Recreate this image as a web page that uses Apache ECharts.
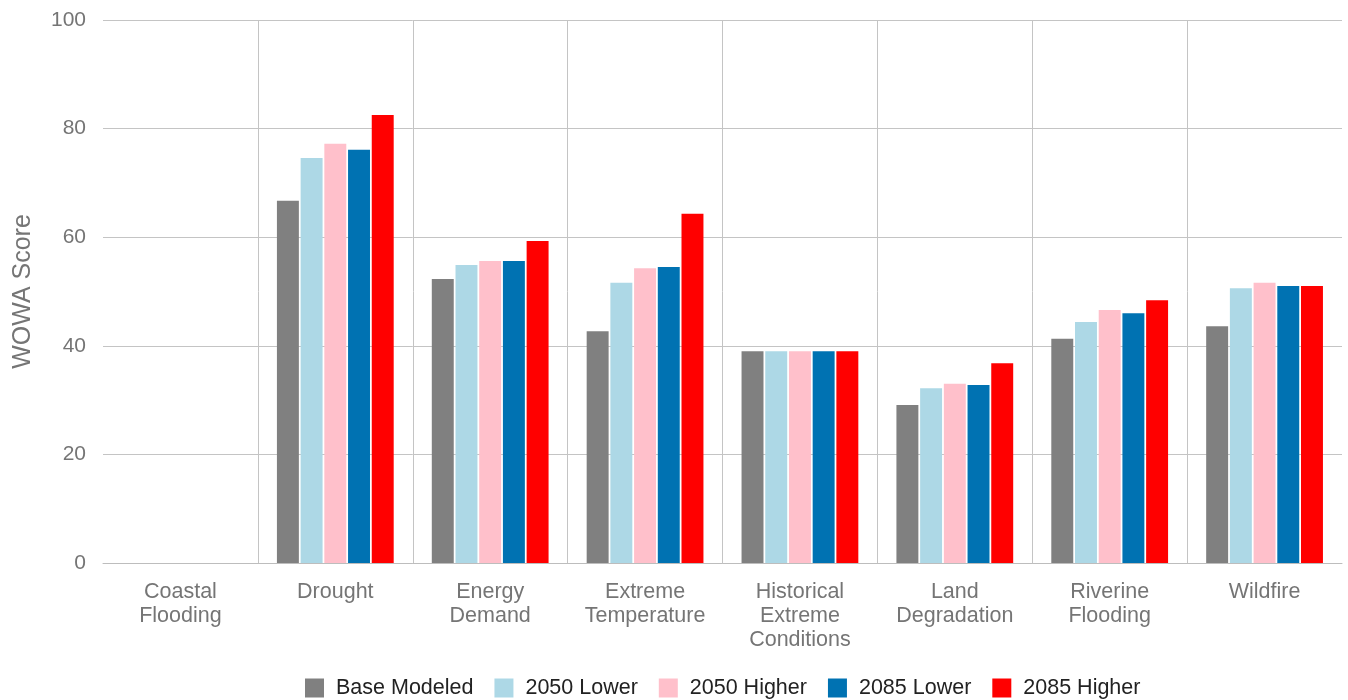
<!DOCTYPE html>
<html>
<head>
<meta charset="utf-8">
<script src="https://cdn.jsdelivr.net/npm/echarts@6/dist/echarts.min.js"></script>
<style>
html,body{margin:0;padding:0;background:#fff;}
#chart{width:1348px;height:700px;}
</style>
</head>
<body>
<div id="chart"></div>
<script>
const categories = ["Coastal\nFlooding", "Drought", "Energy\nDemand", "Extreme\nTemperature", "Historical\nExtreme\nConditions", "Land\nDegradation", "Riverine\nFlooding", "Wildfire"];
const seriesNames = ["Base Modeled", "2050 Lower", "2050 Higher", "2085 Lower", "2085 Higher"];
const baseModeled = [null, 66.7, 52.3, 42.7, 39.0, 29.1, 41.3, 43.6];
const lower2050   = [null, 74.6, 54.9, 51.6, 39.0, 32.2, 44.4, 50.6];
const higher2050  = [null, 77.2, 55.6, 54.3, 39.0, 33.0, 46.6, 51.6];
const lower2085   = [null, 76.1, 55.6, 54.5, 39.0, 32.8, 46.0, 51.0];
const higher2085  = [null, 82.5, 59.3, 64.3, 39.0, 36.8, 48.4, 51.0];
const yTicks = [0, 20, 40, 60, 80, 100];

const colors = ["#808080", "#add8e6", "#ffc0cb", "#0072b2", "#ff0000"];
const seriesData = [baseModeled, lower2050, higher2050, lower2085, higher2085];
const font = "Liberation Sans, Arial, sans-serif";

const chart = echarts.init(document.getElementById('chart'), null, {renderer: 'canvas'});
chart.setOption({
  animation: false,
  color: colors,
  grid: {left: 103, right: 6, top: 20, bottom: 137, containLabel: false},
  legend: {
    left: 305, top: 677, padding: 0,
    itemWidth: 19, itemHeight: 19, itemGap: 21,
    icon: 'rect',
    textStyle: {fontFamily: font, fontSize: 21.5, color: '#222', padding: [0, 0, 0, 7]},
    data: seriesNames
  },
  xAxis: {
    type: 'category',
    data: categories,
    boundaryGap: true,
    axisLine: {show: true, lineStyle: {color: '#bdbdbd', width: 1}},
    axisTick: {show: false},
    axisLabel: {fontFamily: font, fontSize: 21.5, color: '#757575', lineHeight: 24, margin: 17, interval: 0},
    splitLine: {show: true, showMinLine: false, showMaxLine: false, lineStyle: {color: '#c4c4c4', width: 1}}
  },
  yAxis: {
    type: 'value',
    min: yTicks[0], max: yTicks[yTicks.length - 1], interval: 20,
    name: 'WOWA Score',
    nameLocation: 'middle',
    nameGap: 67,
    nameTextStyle: {fontFamily: font, fontSize: 25, color: '#757575'},
    axisLine: {show: false},
    axisTick: {show: false},
    axisLabel: {fontFamily: font, fontSize: 21, color: '#757575', margin: 17},
    splitLine: {lineStyle: {color: '#c4c4c4', width: 1}}
  },
  series: seriesNames.map((n, i) => ({
    name: n,
    type: 'bar',
    data: seriesData[i],
    barGap: '8%',
    barCategoryGap: '24.6%',
    itemStyle: {color: colors[i]}
  }))
});
</script>
</body>
</html>
